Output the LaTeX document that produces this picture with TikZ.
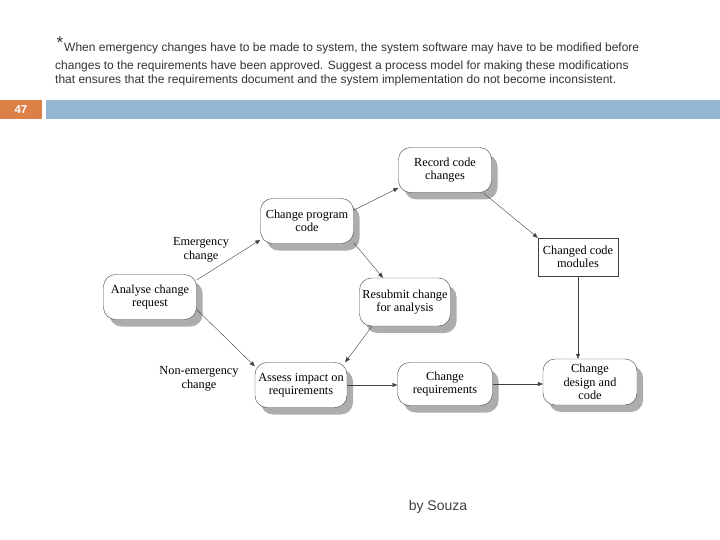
\documentclass[tikz,border=0pt]{standalone}
\usepackage{fontspec}
\setmainfont{Liberation Serif}
\setsansfont{Liberation Sans}
\usetikzlibrary{arrows.meta,positioning,shadows}

\definecolor{slideorange}{HTML}{DD8047}
\definecolor{slideblue}{HTML}{94B6D2}

\begin{document}
\begin{tikzpicture}[
  x=1pt, y=-1pt,
  proc/.style={draw=black!75, fill=white, rounded corners=12pt, align=center, minimum width=93pt, minimum height=45pt, inner sep=1pt, font=\fontsize{12.3}{13.5}\selectfont, drop shadow={shadow xshift=6pt, shadow yshift=-7pt, fill=black!32, opacity=1}},
  doc/.style={draw=black!75, fill=white, align=center, minimum width=80pt, minimum height=38pt, inner sep=1pt, font=\fontsize{12.3}{13.5}\selectfont},
  lbl/.style={align=center, font=\fontsize{12.3}{13.5}\selectfont},
  head/.style={anchor=base west, inner sep=0pt, font=\sffamily\fontsize{12}{13}\selectfont, text=black!80},
  arr/.style={-{Triangle[length=5pt,width=4pt]}, draw=black!75}
]
  \useasboundingbox (0,0) rectangle (720,540);

  % question text and slide bar
  \node[inner sep=0pt, font=\sffamily\fontsize{17}{17}\selectfont, text=black!80] (star) at (60,43) {*};
  \node[head] (line1) at (64,52) {When emergency changes have to be made to system, the system software may have to be modified before};
  \node[head] (line2) at (55,70) {changes to the requirements have been approved. Suggest a process model for making these modifications};
  \node[head] (line3) at (55,84) {that ensures that the requirements document and the system implementation do not become inconsistent.};
  \fill[slideorange] (0,100) rectangle (42,119);
  \fill[slideblue] (46,100) rectangle (720,119);
  \node[font=\sffamily\bfseries\fontsize{11.5}{11.5}\selectfont, text=white] (num) at (21,109.5) {47};

  % process boxes
  \node[proc] (analyse) at (150,297) {Analyse change\\request};
  \node[proc] (program) at (307,221) {Change program\\code};
  \node[proc] (record) at (445,170) {Record code\\changes};
  \node[doc] (modules) at (578,257) {Changed code\\modules};
  \node[proc, minimum width=91pt, minimum height=48pt] (resubmit) at (405,302) {Resubmit change\\for analysis};
  \node[proc, minimum width=92pt] (assess) at (301,385) {Assess impact on\\requirements};
  \node[proc, minimum width=95pt, minimum height=43pt] (changereq) at (445,384) {Change\\requirements};
  \node[proc, minimum width=94pt, minimum height=46pt] (design) at (590,382) {Change\\design and\\code};

  \node[lbl] (emerg) at (201,250) {Emergency\\change};
  \node[lbl] (nonemerg) at (199,379) {Non-emergency\\change};

  % connectors
  \draw[arr] (analyse.20) -- (program.-158);
  \draw[arr] (analyse.-15) -- (assess.158);
  \draw[arr] (program.13) -- (record.-159);
  \draw[arr] (program.-25) -- ([xshift=-22pt]resubmit.north);
  \draw[arr] ([xshift=38pt]record.south) -- (modules.north west);
  \draw[arr] ([xshift=-33pt]resubmit.south) -- ([xshift=-2pt]assess.north east);
  \draw[arr] (modules.south) -- (modules.south |- design.north);
  \draw[arr] (assess.east) -- (assess.east -| changereq.west);
  \draw[arr] (changereq.east) -- (changereq.east -| design.west);

  \node[font=\sffamily\fontsize{14}{14}\selectfont, text=black!75] (author) at (438,507) {by Souza};
\end{tikzpicture}
\end{document}
